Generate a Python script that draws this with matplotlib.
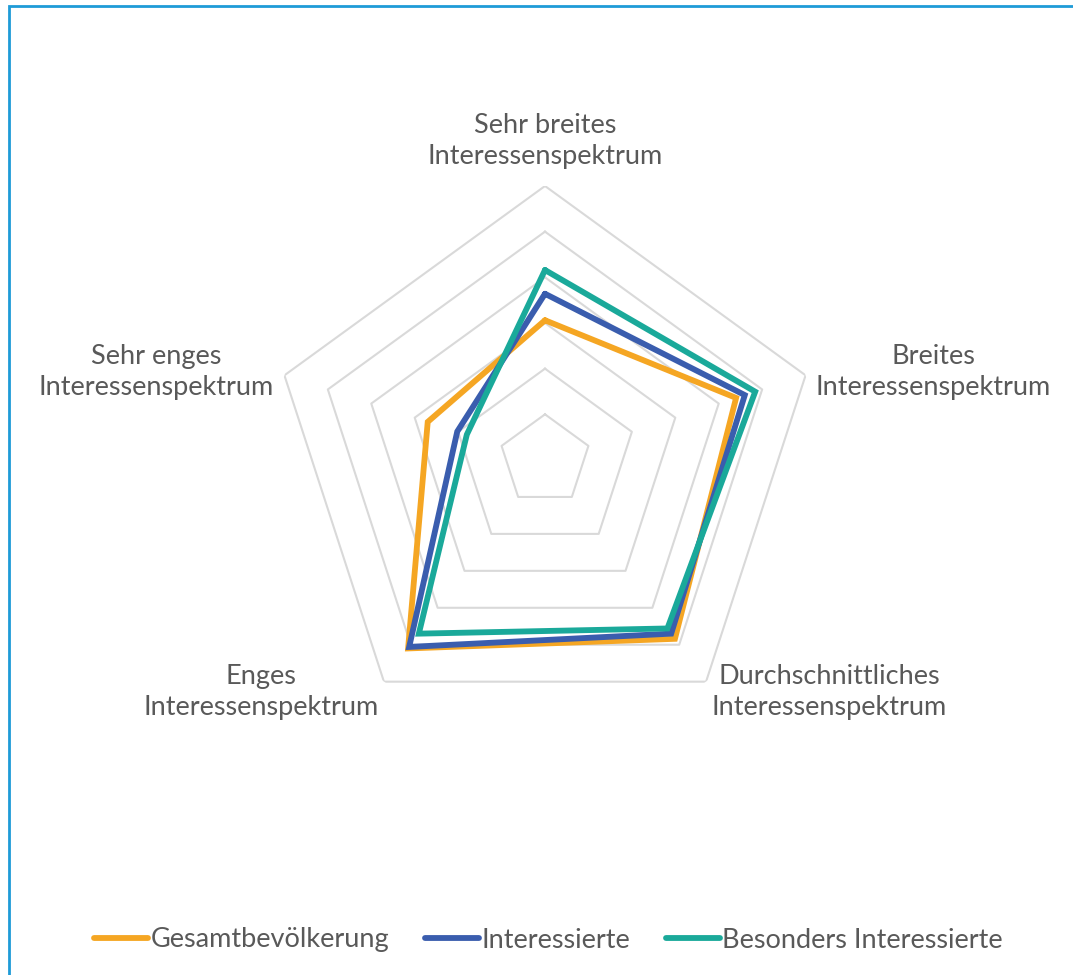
import matplotlib
matplotlib.use('Agg')
import matplotlib.pyplot as plt
import numpy as np

plt.rcParams['font.family'] = ['Lato', 'DejaVu Sans']

# Kategorien (im Uhrzeigersinn ab oben)
kategorien = ['Sehr breites\nInteressenspektrum',
              'Breites\nInteressenspektrum',
              'Durchschnittliches\nInteressenspektrum',
              'Enges\nInteressenspektrum',
              'Sehr enges\nInteressenspektrum']

# Anteile in Prozent
gesamt = [15.3, 22.0, 24.2, 25.5, 13.5]
interessierte = [18.2, 23.0, 23.5, 25.3, 10.1]
besonders = [20.8, 24.2, 22.8, 23.5, 9.0]

serien = ['Gesamtbevölkerung', 'Interessierte', 'Besonders Interessierte']
farben = ['#F5A623', '#3A5DAE', '#1AA99A']

ringe = [5, 10, 15, 20, 25, 30]

W, H = 1073, 975
fig = plt.figure(figsize=(W / 100, H / 100), dpi=100)

cx, cy, R = 545, 460, 274
ax = fig.add_axes([(cx - R) / W, (H - cy - R) / H, 2 * R / W, 2 * R / H],
                  projection='polar')
ax.set_theta_offset(np.pi / 2)
ax.set_theta_direction(-1)
ax.set_ylim(0, 30)
ax.grid(False)
ax.spines['polar'].set_visible(False)
ax.set_xticks([])
ax.set_yticks([])
ax.patch.set_alpha(0)

winkel = np.linspace(0, 2 * np.pi, len(kategorien), endpoint=False)
winkel_zu = np.append(winkel, winkel[0])

for r in ringe:
    ax.plot(winkel_zu, [r] * len(winkel_zu), color='#D9D9D9', lw=1.5, zorder=1)

for werte, farbe, name in zip([gesamt, interessierte, besonders], farben, serien):
    ax.plot(winkel_zu, werte + werte[:1], color=farbe, lw=4.2, label=name,
            solid_joinstyle='miter', solid_capstyle='round', zorder=3)

# Achsenbeschriftungen
pos = [(545, 141), (933, 372), (829, 692), (261, 692), (156, 372)]
for (x, y), txt in zip(pos, kategorien):
    fig.text(x / W, 1 - y / H, txt, ha='center', va='center', fontsize=19.5,
             color='#595959', linespacing=1.33)

leg = fig.legend(loc='center', bbox_to_anchor=(548.5 / W, 1 - 940 / H), ncol=3,
                 frameon=False, fontsize=19.5, handlelength=2.0,
                 handletextpad=0.1, columnspacing=1.3)
for t in leg.get_texts():
    t.set_color('#595959')

# Rahmen
fig.patches.append(plt.Rectangle((8.5 / W, 0 - 0.01), 1.1, 1 - 5.5 / H + 0.01,
                                 transform=fig.transFigure, fill=False,
                                 edgecolor='#1E9BD7', lw=2))

fig.savefig('out.png', dpi=100)
